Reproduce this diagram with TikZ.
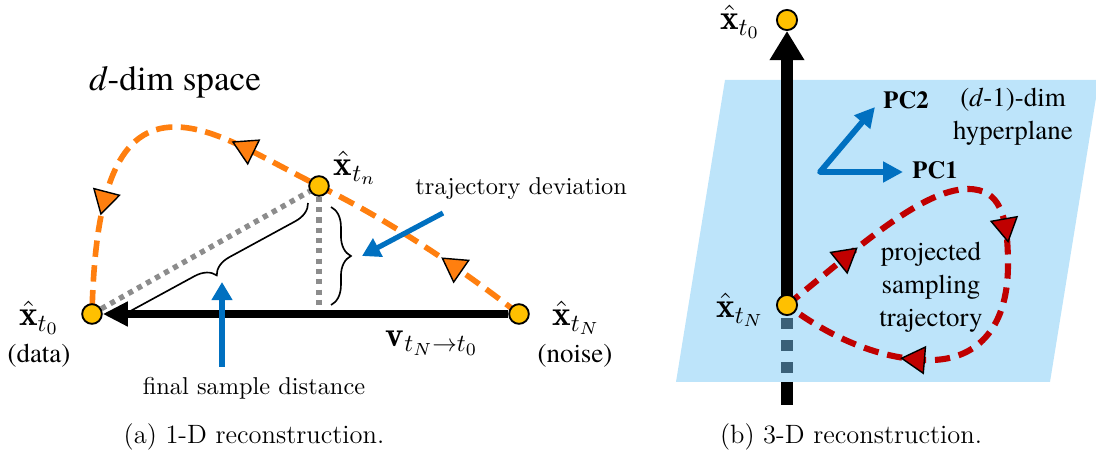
\RequirePackage{fix-cm}
\documentclass[tikz,border=0pt]{standalone}
\usepackage{fontspec}
\IfFontExistsTF{texgyretermes-regular.otf}{%
  \newfontfamily\tms{texgyretermes}[Extension=.otf,UprightFont=*-regular,BoldFont=*-bold,ItalicFont=*-italic,BoldItalicFont=*-bolditalic]}{%
  \newfontfamily\tms{Liberation Serif}}
\usetikzlibrary{arrows.meta,decorations.pathreplacing,shapes.geometric}
\pgfdeclarelayer{bg}\pgfdeclarelayer{mid}\pgfsetlayers{bg,mid,main}
\definecolor{dotY}{HTML}{FFC000}
\definecolor{orng}{HTML}{FF7F0F}
\definecolor{bluA}{HTML}{0070C0}
\definecolor{redD}{HTML}{C00000}
\definecolor{planeC}{RGB}{189,228,250}
\definecolor{slate}{RGB}{58,96,120}
\definecolor{grayD}{RGB}{140,140,140}
\begin{document}
\begin{tikzpicture}[x=0.015cm,y=-0.015cm,
 dot/.style={circle,draw=black,fill=dotY,line width=0.8pt,minimum size=8.4pt,inner sep=0pt},
 mlab/.style={font=\fontsize{15}{17}\selectfont, inner sep=0pt},
 cmtext/.style={font=\fontsize{10.4}{12.5}\selectfont, inner sep=0pt},
 tmtext/.style={font=\tms\fontsize{11.5}{14}\selectfont, inner sep=0pt, align=center},
 pclab/.style={font=\tms\bfseries\fontsize{10.5}{12}\selectfont, inner sep=0pt, anchor=west},
 captext/.style={font=\fontsize{11.3}{13}\selectfont, inner sep=0pt},
 otri/.style={regular polygon, regular polygon sides=3, shape border rotate=-90, minimum size=13pt, inner sep=0pt, draw=black, line width=0.6pt, solid, fill=orng, sloped, allow upside down},
 rtri/.style={otri, fill=redD},
 orangepath/.style={draw=orng,line width=2.4pt,dash pattern=on 7pt off 3.6pt},
 redpath/.style={draw=redD,line width=2.6pt,dash pattern=on 6.5pt off 3.8pt},
 gdot/.style={draw=grayD,line width=2.3pt,dash pattern=on 2.2pt off 2.2pt},
 brc/.style={draw=black,line width=0.7pt,decorate,decoration={brace,amplitude=8.5pt}},
 barrow/.style={draw=bluA,line width=2.2pt,-{Triangle[length=7.7pt,width=8.5pt]}},
 pcarrow/.style={draw=bluA,line width=2.5pt,line join=round,{Triangle[length=8.5pt,width=8.5pt]}-{Triangle[length=8.5pt,width=8.5pt]}},
]
\useasboundingbox (0,0) rectangle (1096,454);

% ---------- left panel ----------
\node[dot] (xt0) at (92,314) {};
\node[dot] (xtN) at (519,314) {};
\node[dot] (xtn) at (319,186) {};
\coordinate (foot) at (319,314);
\coordinate (brA1) at (308,203);
\coordinate (brA2) at (106,313);
\coordinate (brB1) at (331,207);
\coordinate (brB2) at (331,305);
\coordinate (tdT) at (443,213);
\coordinate (tdH) at (362,256);
\coordinate (fsT) at (222,367);
\coordinate (fsH) at (222,282);

\node[font=\tms\fontsize{15}{18}\selectfont, inner sep=0pt] (dspace) at (175,82) {\textit{d}-dim space};
\node[mlab] (lxtn) at (355,168) {$\hat{\mathbf{x}}_{t_n}$};
\node[mlab] (lxt0) at (39,318) {$\hat{\mathbf{x}}_{t_0}$};
\node[mlab] (lxtN) at (576,318) {$\hat{\mathbf{x}}_{t_N}$};
\node[tmtext] (ldata) at (39,356) {(data)};
\node[tmtext] (lnoise) at (575,356) {(noise)};
\node[mlab] (lv) at (432,343) {$\mathbf{v}_{t_N\to t_0}$};
\node[cmtext, anchor=west] (ltd) at (415,189) {trajectory deviation};
\node[cmtext] (lfs) at (254,388) {final sample distance};
\node[captext] (capa) at (254,437) {(a) 1-D reconstruction.};

\begin{pgfonlayer}{mid}
\draw[gdot] (xt0) -- (xtn);
\draw[gdot] (xtn) -- (foot);
\draw[line width=3.4pt,-{Triangle[length=10.7pt,width=10pt]}] (xtN) -- (xt0);
\draw[orangepath] (xtN.center) .. controls (452,262) and (386,219) .. (xtn.center) node[otri,pos=0.32]{}
  .. controls (259,156) and (215,127) .. (175,127) node[otri,pos=0.45]{}
  .. controls (120,127) and (95,185) .. (xt0.center) node[otri,pos=0.63]{};
\draw[brc] (brA1) -- (brA2);
\draw[brc] (brB1) -- (brB2);
\draw[barrow] (tdT) -- (tdH);
\draw[barrow] (fsT) -- (fsH);
\end{pgfonlayer}

% ---------- right panel ----------
\node[dot, minimum size=8.6pt] (xt0R) at (787,20) {};
\node[dot, minimum size=8.6pt] (xtNR) at (787,305) {};
\coordinate (pb) at (787,382);
\coordinate (be) at (787,405);
\coordinate (pco) at (820,172);
\coordinate (pc1) at (903,172);
\coordinate (pc2) at (875,107);

\node[mlab] (lxt0R) at (740,22) {$\hat{\mathbf{x}}_{t_0}$};
\node[mlab] (lxtNR) at (740,310) {$\hat{\mathbf{x}}_{t_N}$};
\node[pclab] (lpc2) at (883,100) {PC2};
\node[pclab] (lpc1) at (912,170) {PC1};
\node[tmtext] (lhyp) at (1013,117) {(\textit{d}-1)-dim\\hyperplane};
\node[tmtext] (lproj) at (931,287) {projected\\sampling\\trajectory};
\node[captext] (capb) at (851,437) {(b) 3-D reconstruction.};

\begin{pgfonlayer}{bg}
\fill[planeC] (725,80) -- (1096,80) -- (1096,98) -- (1050,382) -- (676,382) -- cycle;
\end{pgfonlayer}

\begin{pgfonlayer}{mid}
\draw[slate, line width=4.7pt, dash pattern=on 4.7pt off 4.7pt, dash phase=-1pt] (xtNR) -- (pb);
\draw[line width=4.7pt] (pb) -- (be);
\draw[line width=4.7pt,-{Triangle[length=12.4pt,width=14pt]}] (xtNR.center) -- (xt0R);
\draw[pcarrow] (pc2) -- (pco) -- (pc1);
\draw[redpath] (xtNR.center) .. controls (850,255) and (920,189) .. (968,189) node[rtri,pos=0.3]{}
  .. controls (1000,189) and (1008,215) .. (1008,265) node[rtri,pos=0.7]{}
  .. controls (1008,330) and (975,362) .. (925,360)
  .. controls (870,358) and (820,330) .. (xtNR.center) node[rtri,pos=0.05]{};
\end{pgfonlayer}
\end{tikzpicture}
\end{document}
